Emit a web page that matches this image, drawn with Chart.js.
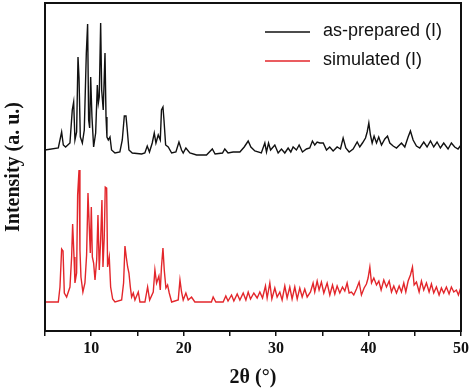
<!DOCTYPE html>
<html>
<head>
<meta charset="utf-8">
<script src="https://cdn.jsdelivr.net/npm/chart.js@4"></script>
<style>
  html, body { margin: 0; padding: 0; background: #fff; }
</style>
</head>
<body>
<canvas id="xrd-chart" width="474" height="390"></canvas>
<script>
// 2-theta positions and intensities (intensity above each trace's baseline)
const preparedAngles = [5.0, 6.44, 6.8, 6.98, 7.23, 7.7, 7.95, 8.1, 8.24, 8.42, 8.57, 8.68, 8.82, 9.04, 9.25, 9.47, 9.61, 9.72, 9.83, 9.94,
    10.08, 10.26, 10.48, 10.66, 10.77, 10.87, 11.02, 11.13, 11.3, 11.49, 11.6, 11.7, 11.85, 12.03, 12.2, 12.57, 13.1, 13.36, 13.58, 13.76,
    13.9, 14.08, 14.44, 15.45, 15.8, 16.06, 16.3, 16.6, 16.82, 17.0, 17.25, 17.47, 17.6, 17.76, 17.87, 18.05, 18.33, 18.7, 19.16, 19.49,
    19.77, 19.95, 20.24, 20.67, 21.4, 22.47, 23.1, 23.4, 24.2, 24.45, 24.8, 25.35, 26.08, 26.55, 26.98, 27.27, 27.7, 28.4, 28.78, 28.96,
    29.18, 29.4, 29.86, 30.22, 30.58, 30.94, 31.3, 31.59, 31.84, 32.2, 32.49, 32.85, 33.28, 33.64, 33.93, 34.18, 34.44, 34.73, 35.1, 35.45,
    35.8, 36.17, 36.6, 36.96, 37.25, 37.54, 37.9, 38.33, 38.77, 39.05, 39.34, 39.67, 39.85, 40.03, 40.2, 40.39, 40.6, 40.86, 41.1, 41.4,
    41.76, 42.05, 42.3, 42.66, 43.02, 43.56, 43.92, 44.28, 44.53, 44.82, 45.18, 45.54, 45.97, 46.33, 46.7, 47.05, 47.41, 47.77, 48.13, 48.6,
    48.96, 49.32, 49.68, 50.0];
const preparedIntensity = [0, 2, 18, 5, 3, 7, 40, 48, 10, 18, 93, 72, 13, 7, 20, 97, 126, 30, 22, 73,
    33, 3, 17, 65, 47, 53, 127, 60, 40, 97, 33, 13, 10, 13, 0, -3, -2, 10, 34, 34,
    20, 0, -3, -4, -3, 4, -2, 7, 17, 7, 15, 10, 40, 43, 30, 5, 3, -3, -2, 8,
    0, -3, 2, -3, -5, -5, 1, -4, -3, 1, -3, -2, -2, 3, 9, 3, -1, -3, 7, -2,
    7, 0, 5, -3, 1, -3, 2, -2, 3, 0, 5, -2, 1, 2, 9, 5, 8, 7, 7, 0,
    3, -1, 3, 1, 12, 2, -2, 1, 8, 3, 7, 12, 18, 27, 15, 7, 14, 7, 13, 5,
    11, 14, 7, 4, 2, 7, 3, 13, 19, 10, 4, 2, 8, 3, 9, 3, 8, 2, 7, 1,
    7, 3, 1, 5];

const simulatedAngles = [5.0, 6.44, 6.62, 6.8, 6.95, 7.09, 7.34, 7.7, 7.88, 7.99, 8.14, 8.24, 8.42, 8.53, 8.68, 8.78, 8.89, 9.1, 9.32, 9.5,
    9.65, 9.79, 9.9, 10.01, 10.12, 10.26, 10.41, 10.59, 10.73, 10.87, 11.02, 11.16, 11.27, 11.41, 11.52, 11.67, 11.77, 11.95, 12.1, 12.32,
    12.57, 13.29, 13.5, 13.65, 13.79, 13.94, 14.08, 14.23, 14.37, 14.55, 14.73, 15.09, 15.27, 15.81, 16.1, 16.32, 16.71, 16.89, 17.07, 17.32,
    17.47, 17.6, 17.76, 17.9, 18.08, 18.26, 18.44, 18.7, 19.41, 19.6, 19.77, 19.95, 20.24, 20.49, 20.85, 21.21, 23.0, 23.19, 23.48, 24.27,
    24.56, 24.8, 25.18, 25.43, 25.79, 26.08, 26.44, 26.73, 26.98, 27.23, 27.59, 27.95, 28.24, 28.53, 28.85, 29.03, 29.32, 29.54, 29.86, 30.11,
    30.4, 30.65, 30.94, 31.19, 31.48, 31.73, 32.02, 32.28, 32.56, 32.82, 33.1, 33.36, 33.72, 34.0, 34.18, 34.44, 34.65, 34.9, 35.16, 35.52,
    35.81, 36.1, 36.35, 36.6, 36.89, 37.18, 37.43, 37.68, 37.9, 38.15, 38.4, 38.69, 38.98, 39.23, 39.52, 39.77, 39.95, 40.14, 40.32, 40.57,
    40.86, 41.11, 41.36, 41.65, 41.94, 42.23, 42.48, 42.73, 43.02, 43.31, 43.56, 43.81, 44.03, 44.28, 44.53, 44.75, 44.93, 45.18, 45.47, 45.72,
    45.97, 46.26, 46.55, 46.8, 47.05, 47.34, 47.63, 47.88, 48.13, 48.42, 48.71, 48.96, 49.22, 49.5, 49.72, 50.0];
const simulatedIntensity = [0, 0, 15, 53, 51, 9, 5, 15, 45, 78, 45, 19, 29, 107, 132, 52, 25, 10, 19, 47,
    109, 75, 49, 95, 45, 39, 22, 42, 87, 32, 62, 102, 35, 65, 115, 114, 35, 45, 15, 3,
    0, 2, 19, 56, 45, 35, 29, 15, 5, 9, 2, 10, 0, 0, 15, 2, 10, 32, 19, 26,
    12, 35, 54, 32, 14, 17, 9, 0, 2, 22, 10, 2, 9, 2, 5, 0, 0, 5, 0, 0,
    6, 1, 7, 1, 8, 2, 9, 2, 10, 3, 9, 4, 10, 4, 16, 4, 19, 3, 14, 5,
    10, 2, 16, 4, 15, 3, 15, 3, 14, 5, 13, 5, 10, 19, 10, 21, 12, 20, 9, 19,
    7, 17, 8, 16, 9, 15, 11, 19, 9, 10, 7, 13, 20, 7, 14, 18, 24, 35, 19, 24,
    17, 21, 12, 22, 15, 21, 10, 16, 9, 16, 10, 19, 10, 21, 27, 35, 17, 20, 10, 21,
    12, 19, 10, 18, 9, 15, 7, 14, 9, 15, 8, 15, 10, 12, 7, 15];

const seriesLabels = ['as-prepared (I)', 'simulated (I)'];
const seriesColors = ['#111111', '#e3262b'];
// vertical stacking of the two traces (arbitrary intensity units)
const traceOffsets = [181, 29];

function toPoints(angles, values, offset) {
    return angles.map((a, i) => ({ x: a, y: values[i] + offset }));
}

const frameBox = {
    id: 'frameBox',
    afterDraw(chart) {
        const { ctx, chartArea } = chart;
        ctx.save();
        ctx.strokeStyle = '#111';
        ctx.lineWidth = 2;
        ctx.strokeRect(chartArea.left, chartArea.top, chartArea.right - chartArea.left, chartArea.bottom - chartArea.top);
        ctx.restore();
    }
};

const insideLegend = {
    id: 'insideLegend',
    afterDraw(chart) {
        const ctx = chart.ctx;
        ctx.save();
        ctx.font = '18px "Liberation Sans", Arial, sans-serif';
        ctx.textBaseline = 'middle';
        chart.data.datasets.forEach((ds, i) => {
            const y = 32 + i * 29;
            ctx.strokeStyle = ds.borderColor;
            ctx.lineWidth = 1.5;
            ctx.beginPath();
            ctx.moveTo(265, y);
            ctx.lineTo(310, y);
            ctx.stroke();
            ctx.fillStyle = '#111';
            ctx.fillText(ds.label, 323, y - 1);
        });
        ctx.restore();
    }
};

const serifBold = { family: '"Liberation Serif", "Times New Roman", serif', weight: 'bold' };

new Chart(document.getElementById('xrd-chart'), {
    type: 'line',
    data: {
        datasets: [
            {
                label: seriesLabels[0],
                data: toPoints(preparedAngles, preparedIntensity, traceOffsets[0]),
                borderColor: seriesColors[0],
                borderWidth: 1.4
            },
            {
                label: seriesLabels[1],
                data: toPoints(simulatedAngles, simulatedIntensity, traceOffsets[1]),
                borderColor: seriesColors[1],
                borderWidth: 1.4
            }
        ]
    },
    options: {
        responsive: false,
        animation: false,
        devicePixelRatio: 1,
        layout: { padding: { top: 3, right: 13, left: 0, bottom: 0 } },
        elements: { point: { radius: 0 }, line: { tension: 0 } },
        plugins: {
            legend: { display: false },
            tooltip: { enabled: false }
        },
        scales: {
            x: {
                type: 'linear',
                min: 5,
                max: 50,
                ticks: {
                    stepSize: 5,
                    autoSkip: false,
                    maxRotation: 0,
                    padding: 3,
                    color: '#111',
                    font: { ...serifBold, size: 16 },
                    callback: v => (v % 10 === 0 ? v : '')
                },
                grid: { drawOnChartArea: false, tickLength: 5, color: '#111', lineWidth: 1.5 },
                border: { color: '#111', width: 2 },
                title: {
                    display: true,
                    text: '2θ (°)',
                    color: '#111',
                    font: { ...serifBold, size: 20 },
                    padding: { top: 4, bottom: 0 }
                },
                afterFit: s => { s.height = 59; }
            },
            y: {
                min: 0,
                max: 328,
                ticks: { display: false },
                grid: { display: false },
                border: { color: '#111', width: 2 },
                title: {
                    display: true,
                    text: 'Intensity (a. u.)',
                    color: '#111',
                    font: { ...serifBold, size: 20 },
                    padding: { top: 2, bottom: 4 }
                },
                afterFit: s => { s.width = 45; }
            }
        }
    },
    plugins: [frameBox, insideLegend]
});
</script>
</body>
</html>
